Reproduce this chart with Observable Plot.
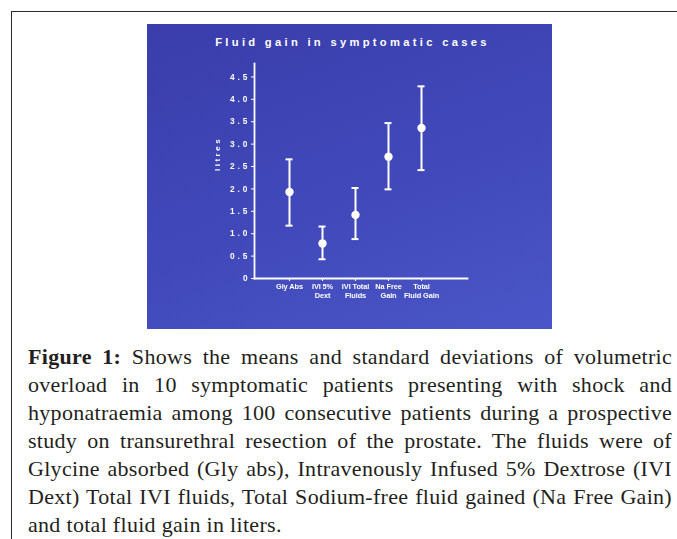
<!DOCTYPE html>
<html><head><meta charset="utf-8">
<script src="https://cdn.jsdelivr.net/npm/d3@7"></script>
<script src="https://cdn.jsdelivr.net/npm/@observablehq/plot@0.6"></script>
<style>
html,body{margin:0;padding:0;background:#fff;width:677px;height:539px;overflow:hidden;}
#border{position:absolute;left:11px;top:11px;width:700px;height:600px;border-left:1.5px solid #2b2b2b;border-top:1.5px solid #2b2b2b;}
#panel{position:absolute;left:147px;top:24px;width:405px;height:305px;background:linear-gradient(160deg,#3a3dab 0%,#4149ba 55%,#4a56c7 100%);overflow:hidden;}
#title{position:absolute;left:0;top:12px;width:100%;text-align:center;color:#fff;font:bold 11.2px "Liberation Sans",Arial,sans-serif;letter-spacing:3.3px;padding-left:6px;box-sizing:border-box;}
#chart{position:absolute;left:0;top:0;filter:blur(0.25px);}
#caption{position:absolute;left:28px;top:343px;width:644px;font-family:"Liberation Serif",serif;font-size:22px;letter-spacing:0.3px;line-height:28px;color:#231f20;}
#caption b{font-weight:600;}
#caption .l{text-align:justify;text-align-last:justify;}
#caption .last{text-align:left;}
</style></head>
<body>
<div id="border"></div>
<div id="panel"><div id="chart"></div><div id="title"></div></div>
<div id="caption"></div>
<script>
const title = "Fluid gain in symptomatic cases";
const categories = ["Gly Abs", "IVI 5%\nDext", "IVI Total\nFluids", "Na Free\nGain", "Total\nFluid Gain"];
const means = [1.93, 0.78, 1.42, 2.72, 3.36];
const lows  = [1.18, 0.43, 0.88, 1.99, 2.42];
const highs = [2.66, 1.16, 2.02, 3.47, 4.29];
const yTicks = [0, 0.5, 1, 1.5, 2, 2.5, 3, 3.5, 4, 4.5];
const yLabel = "litres";
const captionBold = "Figure 1:";
const captionLines = [
  " Shows the means and standard deviations of volumetric",
  "overload in 10 symptomatic patients presenting with shock and",
  "hyponatraemia among 100 consecutive patients during a prospective",
  "study on transurethral resection of the prostate. The fluids were of",
  "Glycine absorbed (Gly abs), Intravenously Infused 5% Dextrose (IVI",
  "Dext) Total IVI fluids, Total Sodium-free fluid gained (Na Free Gain)",
  "and total fluid gain in liters."
];

const data = categories.map((c, i) => ({cat: c, mean: means[i], lo: lows[i], hi: highs[i]}));

document.getElementById("title").textContent = title;

const white = "#ffffff";
const chart = Plot.plot({
  width: 405, height: 305,
  marginLeft: 107, marginRight: 85, marginTop: 39, marginBottom: 51,
  style: {background: "transparent", color: white, fontFamily: "'Liberation Sans', Arial, sans-serif", fontWeight: "bold", overflow: "visible"},
  x: {type: "point", domain: categories, padding: 1.156, align: 0.436},
  y: {domain: [0, 4.8]},
  marks: [
    Plot.frame({anchor: "left", stroke: white, strokeWidth: 1.8}),
    Plot.frame({anchor: "bottom", stroke: white, strokeWidth: 1.8}),
    Plot.axisY({ticks: yTicks, tickSize: 3, tickPadding: 1, tickFormat: d => d === 0 ? "0" : d.toFixed(1), fontSize: 8.3, label: null}),
    Plot.axisX({tickSize: 3, tickPadding: 2, fontSize: 7.4, label: null, lineHeight: 1.12}),
    Plot.text([yLabel], {frameAnchor: "left", dx: -37, rotate: -90, fill: white, fontSize: 8, fontWeight: "bold"}),
    Plot.ruleX(data, {x: "cat", y1: "lo", y2: "hi", stroke: white, strokeWidth: 2}),
    Plot.ruleY(data, {x1: "cat", x2: "cat", y: "hi", insetLeft: -3.5, insetRight: -3.5, stroke: white, strokeWidth: 2}),
    Plot.ruleY(data, {x1: "cat", x2: "cat", y: "lo", insetLeft: -3.5, insetRight: -3.5, stroke: white, strokeWidth: 2}),
    Plot.dot(data, {x: "cat", y: "mean", r: 4.2, fill: white})
  ]
});
document.getElementById("chart").appendChild(chart);
const svg = d3.select(chart);
svg.selectAll('g[aria-label="y-axis tick label"] text').style("letter-spacing", "3px");
svg.selectAll('g[aria-label="x-axis tick label"] text').style("letter-spacing", "-0.1px");
svg.selectAll('g[aria-label="text"] text').style("letter-spacing", "2.5px");

const cap = d3.select("#caption");
captionLines.forEach((t, i) => {
  const div = cap.append("div").attr("class", i === captionLines.length - 1 ? "last" : "l");
  if (i === 0) div.append("b").text(captionBold);
  div.append("span").text(t);
});
</script>
</body></html>
